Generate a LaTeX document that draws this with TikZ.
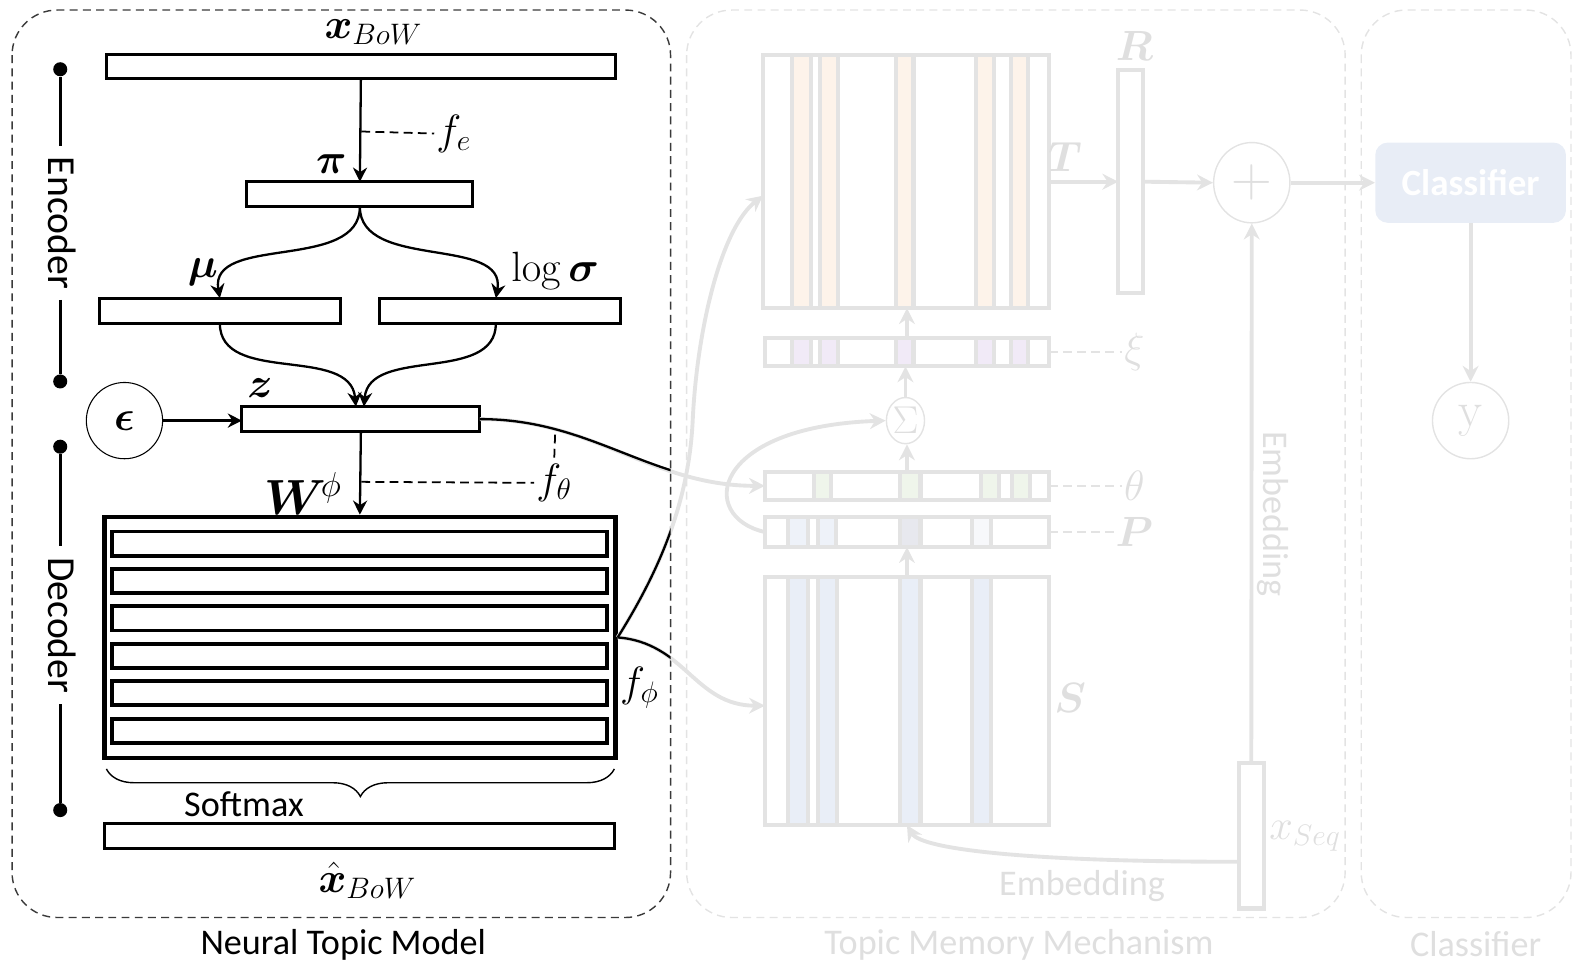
\RequirePackage{fix-cm}
\documentclass[tikz,border=0pt]{standalone}
\usepackage[no-math]{fontspec}
\setmainfont{Carlito}
\usepackage{amsmath, bm}
\usetikzlibrary{arrows.meta, positioning, calc, decorations.pathreplacing, shapes.geometric}
\definecolor{fadeline}{HTML}{E3E3E3}
\definecolor{fadetext}{HTML}{DFDFDF}
\definecolor{panelgray}{HTML}{3A3A3A}
\definecolor{torange}{HTML}{FDF3EA}
\definecolor{xpurple}{HTML}{F1EAF7}
\definecolor{tgreen}{HTML}{EFF5EB}
\definecolor{pblue}{HTML}{EEF2F9}
\definecolor{pgray}{HTML}{E7E8EE}
\definecolor{pwhite}{HTML}{F7F8FB}
\definecolor{sblue}{HTML}{E9EEF7}
\definecolor{clsfill}{HTML}{E8EDF6}

\begin{document}
\begin{tikzpicture}[x=0.02cm, y=-0.02cm, >={Stealth[length=8pt,width=8pt]},
  bar/.style={draw, line width=1.7pt, fill=white, inner sep=0pt, outer sep=0pt},
  wh/.style 2 args={minimum width=#1*0.02cm, minimum height=#2*0.02cm},
  lab/.style={font=\fontsize{24}{28}\selectfont, inner sep=1pt},
  txt/.style={font=\fontsize{20.5}{24}\selectfont, inner sep=1pt},
  conn/.style={->, line width=1.3pt},
  leader/.style={dash pattern=on 5pt off 3pt, line width=1pt},
  dot/.style={circle, fill, minimum size=14*0.02cm, inner sep=0pt},
  gbar/.style={draw=fadeline, line width=2.3pt, fill=white, inner sep=0pt, outer sep=0pt},
  gcell/.style={draw=fadeline, line width=2.3pt},
  gconn/.style={-{Stealth[length=9pt,width=9pt]}, draw=fadeline, line width=2.2pt},
  gleader/.style={leader, draw=fadeline},
  glab/.style={lab, text=fadetext},
  gtxt/.style={txt, text=fadetext},
  panel/.style={dash pattern=on 4.5pt off 3pt, rounded corners=0.9cm, line width=0.8pt}]
\useasboundingbox (0,0) rectangle (1568,960);

% panels
\draw[panel, panelgray] (12,10) rectangle (668,914);
\draw[panel, fadeline] (684,10) rectangle (1340,914);
\draw[panel, fadeline] (1356,10) rectangle (1565,914);
\node[txt] (ntm) at (342,941) {Neural Topic Model};
\node[gtxt] (tmm) at (1015,941) {Topic Memory Mechanism};
\node[gtxt] (clsp) at (1470,940) {Classifier};

% topic memory mechanism (faded)
\node[gbar, wh={285}{252}] (Tm) at (902.5,181) {};
\foreach \a/\b in {789/808, 817/835, 893/910, 972/990, 1007/1024}
  \draw[gcell, fill=torange] (\a,55) rectangle (\b,307);
\node[gbar, wh={283}{28}] (xi) at (903.5,351) {};
\foreach \a/\b in {789/808, 817/835, 893/910, 972/990, 1007/1024}
  \draw[gcell, fill=xpurple] (\a,337) rectangle (\b,365);
\node[draw=fadeline, ellipse, line width=0.8pt, wh={38}{46}, inner sep=0pt,
      text=fadetext, font=\fontsize{22}{24}\selectfont] (sig) at (902,419) {$\Sigma$};
\node[gbar, wh={283}{28}] (theta) at (903.5,484) {};
\foreach \a/\b in {811/828, 897/917, 977/995, 1008/1026}
  \draw[gcell, fill=tgreen] (\a,470) rectangle (\b,498);
\node[gbar, wh={283}{30}] (P) at (903.5,530) {};
\foreach \a/\b/\c in {785/805/pblue, 815/833/pblue, 897/917/pgray, 968/987/pwhite}
  \draw[gcell, fill=\c] (\a,515) rectangle (\b,545);
\node[gbar, wh={283}{247}] (S) at (903.5,698.5) {};
\foreach \a/\b in {785/805, 815/834, 897/917, 968/987}
  \draw[gcell, fill=sblue] (\a,575) rectangle (\b,822);

\node[glab] (xilab) at (1130,351) {$\xi$};
\node[glab] (thlab) at (1130,484) {$\theta$};
\node[glab] (plab) at (1130,530) {$\bm{P}$};
\node[glab] (slab) at (1066,695) {$\bm{S}$};
\draw[gleader] (xi.east) -- (xilab.west);
\draw[gleader] (theta.east) -- (thlab.west);
\draw[gleader] (P.east) -- (plab.west);

\node[gbar, wh={25}{222}] (R) at (1126.5,181) {};
\node[glab] (rlab) at (1130,46) {$\bm{R}$};
\node[glab] (tlab) at (1061,156) {$\bm{T}$};
\node[draw=fadeline, ellipse, line width=0.8pt, wh={76}{80}, inner sep=0pt,
      text=fadetext, font=\fontsize{32}{34}\selectfont] (plus) at (1247,182) {$+$};
\node[gbar, wh={25}{145}] (xseq) at (1246.5,832.5) {};
\node[glab] (xslab) at (1300,833) {$x_{Seq}$};
\node[gtxt, rotate=-90] (emb1) at (1268,512) {Embedding};
\node[gtxt] (emb2) at (1078,883) {Embedding};

% classifier (faded)
\node[fill=clsfill, rounded corners=0.25cm, wh={190}{80}, inner sep=0pt,
      text=white, font=\fontsize{21}{24}\selectfont\bfseries] (cls) at (1465,182) {Classifier};
\node[draw=fadeline, circle, line width=0.8pt, wh={76}{76}, inner sep=0pt,
      text=fadetext, font=\fontsize{28}{30}\selectfont] (y) at (1465,419) {$\mathrm{y}$};

\draw[gconn] (xi.north) -- (xi.north |- Tm.south);
\draw[gconn] (sig.north) -- (sig.north |- xi.south);
\draw[gconn] (theta.north) -- (theta.north |- sig.south);
\draw[gconn] (S.north) -- (P.south);
\draw[gconn] (Tm.east) -- (R.west);
\draw[gconn] (R.east) -- (plus.west);
\draw[gconn] (plus.east) -- (cls.west);
\draw[gconn] (cls.south) -- (y.north);
\draw[gconn] (xseq.north) -- (plus.south);
\draw[gconn] (P.west) .. controls +(-67,-15) and +(-175,6) .. (sig.west);
\draw[gconn] ([yshift=-0.52cm]xseq.west) .. controls +(-200,0) and +(15,25) .. (S.south);

% links leaving the topic model
\node[draw, line width=2.6pt, fill=white, wh={509}{240}, inner sep=0pt] (W) at (358.5,635) {};
\node[bar, wh={237}{25}] (z) at (359.5,417.5) {};
\coordinate (wbend) at (690,420);
\draw[gconn] (z.east) to[out=0, in=180] (theta.west);
\draw[gconn] (W.east) .. controls +(42,-67) and +(-4,80) .. (wbend)
  .. controls +(4,-90) and +(-42,33) .. ([yshift=-0.28cm]Tm.west);
\draw[gconn] (W.east) .. controls +(67,5) and +(-70,0) .. ([yshift=-0.09cm]S.west);
\begin{scope}
  \clip (0,0) rectangle (668,960);
  \draw[line width=1.3pt] (z.east) to[out=0, in=180] (theta.west);
  \draw[line width=1.3pt] (W.east) .. controls +(42,-67) and +(-4,80) .. (wbend);
  \draw[line width=1.3pt] (W.east) .. controls +(67,5) and +(-70,0) .. ([yshift=-0.09cm]S.west);
\end{scope}

% neural topic model
\node[bar, wh={507}{24}] (xbow) at (359.5,66) {};
\node[lab] (xbowlab) at (372,32) {$\bm{x}_{BoW}$};
\node[bar, wh={225}{25}] (pi) at (358.5,193.5) {};
\node[lab] (pilab) at (330,163) {$\bm{\pi}$};
\node[bar, wh={240}{25}] (mu) at (219,309.5) {};
\node[lab] (mulab) at (202,271) {$\bm{\mu}$};
\node[bar, wh={240}{25}] (lsig) at (498,309.5) {};
\node[lab] (lsiglab) at (553,270) {$\log\bm{\sigma}$};
\node[lab] (zlab) at (259,387) {$\bm{z}$};
\node[draw, circle, line width=0.6pt, wh={76}{76}, inner sep=0pt,
      font=\fontsize{24}{28}\selectfont] (eps) at (124,419) {$\bm{\epsilon}$};
\foreach \i in {0,...,5}
  \node[bar, line width=2.2pt, wh={493}{24}] (row\i) at (358.5,541.5+37.3*\i) {};
\node[lab, font=\fontsize{28}{32}\selectfont] (wlab) at (302,492) {$\bm{W}^{\!\phi}$};
\node[bar, wh={508}{25}] (xhat) at (358,832.5) {};
\node[lab] (xhatlab) at (366,877) {$\hat{\bm{x}}_{BoW}$};
\node[txt] (smax) at (243,801) {Softmax};
\draw[line width=0.8pt, decorate, decoration={brace, mirror, amplitude=0.55cm}]
  (106,766) -- (612,766);

\node[lab] (fe) at (452,133) {$f_e$};
\node[lab] (fth) at (552,481) {$f_\theta$};
\node[lab] (fph) at (637,685) {$f_\phi$};

\draw[conn] (xbow.south) -- (pi.north);
\draw[leader] (360,131) -- (fe.west);
\draw[conn] (pi.south) to[out=-90, in=100] (mu.north);
\draw[conn] (pi.south) to[out=-90, in=80] ([xshift=-0.08cm]lsig.north);
\draw[conn] (mu.south) to[out=-90, in=95] ([xshift=-0.1cm]z.north);
\draw[conn] ([xshift=-0.08cm]lsig.south) to[out=-90, in=85] ([xshift=0.06cm]z.north);
\draw[conn] (eps.east) -- (z.west |- eps.east);
\draw[conn] (z.south) -- (W.north);
\draw[leader] (360,480) -- (fth.west);
\draw[leader] (553,433) -- (fth.north);

% encoder / decoder scales
\node[txt, font=\fontsize{22.5}{26}\selectfont, inner sep=6pt, rotate=-90] (enc) at (62,222) {Encoder};
\node[dot] (etop) at (60,69) {};
\node[dot] (ebot) at (60,380) {};
\draw[line width=1.7pt] (etop) -- (etop |- enc.west);
\draw[line width=1.7pt] (ebot |- enc.east) -- (ebot);
\node[txt, font=\fontsize{22.5}{26}\selectfont, inner sep=6pt, rotate=-90] (dec) at (62,623) {Decoder};
\node[dot] (dtop) at (60,445) {};
\node[dot] (dbot) at (60,807) {};
\draw[line width=1.7pt] (dtop) -- (dtop |- dec.west);
\draw[line width=1.7pt] (dbot |- dec.east) -- (dbot);
\end{tikzpicture}
\end{document}
